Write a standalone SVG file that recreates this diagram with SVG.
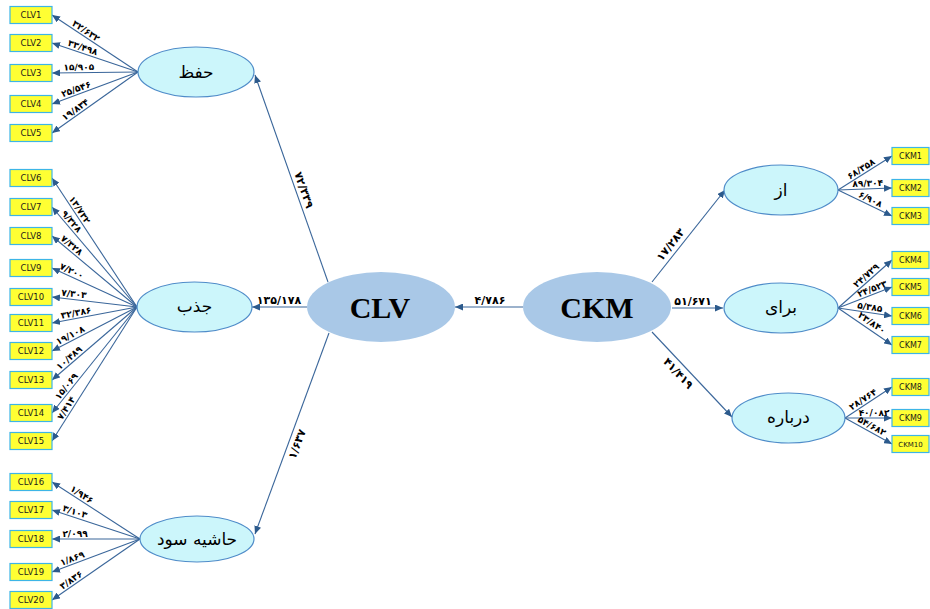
<svg xmlns="http://www.w3.org/2000/svg" width="930" height="609" viewBox="0 0 930 609">
<style>
.bg{fill:#ffffff}
.box{fill:#FFFF33;stroke:#3DB5E6;stroke-width:1.2}
.bt{font-family:"DejaVu Sans",sans-serif;font-size:8.5px;fill:#1a1a1a;text-anchor:middle}
.rt{font-family:"DejaVu Sans",sans-serif;font-size:8px;fill:#1a1a1a;text-anchor:middle}
.lat{fill:#CCF6FB;stroke:#4F8CC9;stroke-width:1.2}
.main{fill:#A9C8E7}
.lt{font-family:"DejaVu Sans",sans-serif;font-size:17px;text-anchor:middle;fill:#000}
.mt{font-family:"Liberation Serif",serif;font-weight:bold;font-size:30px;text-anchor:middle;fill:#000}
.ln{stroke:#3A669A;stroke-width:1.1;fill:none;marker-end:url(#ah)}
.nl{font-family:"DejaVu Sans",sans-serif;font-weight:bold;font-size:9px;text-anchor:middle;fill:#000}
.pl{font-family:"DejaVu Sans",sans-serif;font-weight:bold;font-size:11px;text-anchor:middle;fill:#000}
</style>
<defs>
<marker id="ah" markerUnits="userSpaceOnUse" markerWidth="9" markerHeight="7" refX="8" refY="3.5" orient="auto">
<path d="M0,0 L8,3.5 L0,7 z" fill="#2C5A8C"/>
</marker>
</defs>
<rect class="bg" x="0" y="0" width="930" height="609"/>

<g id="connectors">
<path class="ln" d="M138,72 L52,15"/>
<path class="ln" d="M138,72 L52,43"/>
<path class="ln" d="M138,72 L52,73"/>
<path class="ln" d="M138,72 L52,104"/>
<path class="ln" d="M138,72 L52,133"/>
<path class="ln" d="M137,307 L52,178"/>
<path class="ln" d="M137,307 L52,207"/>
<path class="ln" d="M137,307 L52,236"/>
<path class="ln" d="M137,307 L52,268"/>
<path class="ln" d="M137,307 L52,297"/>
<path class="ln" d="M137,307 L52,323"/>
<path class="ln" d="M137,307 L52,351"/>
<path class="ln" d="M137,307 L52,380"/>
<path class="ln" d="M137,307 L52,413"/>
<path class="ln" d="M137,307 L52,441"/>
<path class="ln" d="M140,539 L52,482"/>
<path class="ln" d="M140,539 L52,510"/>
<path class="ln" d="M140,539 L52,539"/>
<path class="ln" d="M140,539 L52,572"/>
<path class="ln" d="M140,539 L52,600"/>
<path class="ln" d="M838,190 L892,156"/>
<path class="ln" d="M838,190 L892,188"/>
<path class="ln" d="M838,190 L892,216"/>
<path class="ln" d="M838,308 L892,260"/>
<path class="ln" d="M838,308 L892,287"/>
<path class="ln" d="M838,308 L892,316"/>
<path class="ln" d="M838,308 L892,345"/>
<path class="ln" d="M845,418 L892,387"/>
<path class="ln" d="M845,418 L892,418"/>
<path class="ln" d="M845,418 L892,444"/>
<path class="ln" d="M523,307 L455,307"/>
<path class="ln" d="M307,307 L252,307"/>
<path class="ln" d="M328,282 L255,75"/>
<path class="ln" d="M329,333 L255,534"/>
<path class="ln" d="M652,282 L725,190"/>
<path class="ln" d="M672,308 L723,308"/>
<path class="ln" d="M652,332 L732,417"/>

<g id="connector-labels">
<text class="nl" transform="translate(83,35.6) rotate(33.5)" y="-2.5">۳۲/۶۳۲</text>
<text class="nl" transform="translate(81,52.8) rotate(18.6)" y="-2.5">۳۳/۴۹۸</text>
<text class="nl" transform="translate(79,72.7) rotate(-0.7)" y="-2.5">۱۵/۹۰۵</text>
<text class="nl" transform="translate(78,94.3) rotate(-20.4)" y="-2.5">۲۵/۵۴۶</text>
<text class="nl" transform="translate(78.5,114.2) rotate(-35.3)" y="-2.5">۱۹/۸۳۴</text>
<text class="nl" transform="translate(75,212.9) rotate(56.6)" y="-2.5">۱۳/۷۳۲</text>
<text class="nl" transform="translate(67.4,225.1) rotate(49.6)" y="-2.5">۹/۳۲۸</text>
<text class="nl" transform="translate(68.2,249.5) rotate(39.9)" y="-2.5">۷/۳۲۸</text>
<text class="nl" transform="translate(69.5,276) rotate(24.6)" y="-2.5">۷/۲۰۰</text>
<text class="nl" transform="translate(73.3,299.5) rotate(6.7)" y="-2.5">۷/۳۰۳</text>
<text class="nl" transform="translate(77.1,318.3) rotate(-10.7)" y="-2.5">۳۲/۳۸۶</text>
<text class="nl" transform="translate(72.8,340.2) rotate(-27.4)" y="-2.5">۱۹/۱۰۸</text>
<text class="nl" transform="translate(72.9,362) rotate(-40.7)" y="-2.5">۱۰/۴۸۹</text>
<text class="nl" transform="translate(70.7,389.7) rotate(-51.3)" y="-2.5">۱۵/۰۶۹</text>
<text class="nl" transform="translate(71,411.1) rotate(-57.6)" y="-2.5">۷/۴۱۴</text>
<text class="nl" transform="translate(78.7,499.3) rotate(32.9)" y="-2.5">۱/۹۴۶</text>
<text class="nl" transform="translate(73.1,517) rotate(18.2)" y="-2.5">۳/۱۰۳</text>
<text class="nl" transform="translate(75,539) rotate(0)" y="-2.5">۲/۰۹۹</text>
<text class="nl" transform="translate(74.1,563.7) rotate(-20.6)" y="-2.5">۱/۸۶۹</text>
<text class="nl" transform="translate(74.4,584.5) rotate(-34.7)" y="-2.5">۳/۸۳۶</text>
<text class="nl" transform="translate(864,173.6) rotate(-32.2)" y="-2.5">۶۸/۳۵۸</text>
<text class="nl" transform="translate(868,188.9) rotate(-2.1)" y="-2.5">۸۹/۳۰۴</text>
<text class="nl" transform="translate(868,204.4) rotate(25.7)" y="-2.5">۶/۹۰۸</text>
<text class="nl" transform="translate(870,279.6) rotate(-41.6)" y="-2.5">۲۴/۷۲۹</text>
<text class="nl" transform="translate(874.2,293.9) rotate(-21.3)" y="-2.5">۲۴/۵۲۳</text>
<text class="nl" transform="translate(869.1,312.6) rotate(8.4)" y="-2.5">۵/۳۸۵</text>
<text class="nl" transform="translate(868,328.6) rotate(34.4)" y="-4">۲۳/۸۴۰</text>
<text class="nl" transform="translate(866,404) rotate(-33.4)" y="-2.5">۲۸/۷۶۴</text>
<text class="nl" transform="translate(874,418) rotate(0)" y="-2.5">۴۰/۰۸۲</text>
<text class="nl" transform="translate(869,431.3) rotate(29)" y="-3">۵۴/۶۸۲</text>
<text class="pl" x="279" y="304">۱۳۵/۱۷۸</text>
<text class="pl" x="490" y="304">۴/۷۸۶</text>
<text class="pl" x="693" y="305">۵۱/۶۷۱</text>
<text class="pl" transform="translate(296.6,192.6) rotate(70.67)" y="-4">۷۲/۳۳۹</text>
<text class="pl" transform="translate(289.4,441.2) rotate(-69.9)" y="12">۱/۶۳۷</text>
<text class="pl" transform="translate(677.4,250) rotate(-51.6)" y="-5">۱۷/۲۸۳</text>
<text class="pl" transform="translate(685,367) rotate(46.74)" y="13">۴۱/۴۱۹</text>
</g>
</g>

<g id="node-CLV"><ellipse class="main" cx="381" cy="307" rx="74" ry="35"/><text class="mt" x="380" y="318">CLV</text></g>
<g id="node-CKM"><ellipse class="main" cx="597" cy="307" rx="74" ry="35"/><text class="mt" x="597" y="318">CKM</text></g>
<g id="node-hefz"><ellipse class="lat" cx="196" cy="72" rx="58" ry="25"/><text class="lt" x="196" y="78">حفظ</text></g>
<g id="node-jazb"><ellipse class="lat" cx="194.5" cy="307" rx="57.5" ry="25"/><text class="lt" x="194.5" y="312">جذب</text></g>
<g id="node-hashie"><ellipse class="lat" cx="197" cy="539" rx="57" ry="23"/><text class="lt" x="197" y="545">حاشیه سود</text></g>
<g id="node-az"><ellipse class="lat" cx="781" cy="190" rx="57" ry="25"/><text class="lt" x="781" y="196">از</text></g>
<g id="node-baray"><ellipse class="lat" cx="781" cy="308" rx="57" ry="25"/><text class="lt" x="781" y="313">برای</text></g>
<g id="node-darbare"><ellipse class="lat" cx="788.5" cy="418" rx="56.5" ry="25"/><text class="lt" x="788.5" y="423">درباره</text></g>

<g id="node-CLV1"><rect class="box" x="10" y="6.5" width="42" height="17"/><text class="bt" x="31" y="18">CLV1</text></g>
<g id="node-CLV2"><rect class="box" x="10" y="34.5" width="42" height="17"/><text class="bt" x="31" y="46">CLV2</text></g>
<g id="node-CLV3"><rect class="box" x="10" y="64.5" width="42" height="17"/><text class="bt" x="31" y="76">CLV3</text></g>
<g id="node-CLV4"><rect class="box" x="10" y="95.5" width="42" height="17"/><text class="bt" x="31" y="107">CLV4</text></g>
<g id="node-CLV5"><rect class="box" x="10" y="124.5" width="42" height="17"/><text class="bt" x="31" y="136">CLV5</text></g>
<g id="node-CLV6"><rect class="box" x="10" y="169.5" width="42" height="17"/><text class="bt" x="31" y="181">CLV6</text></g>
<g id="node-CLV7"><rect class="box" x="10" y="198.5" width="42" height="17"/><text class="bt" x="31" y="210">CLV7</text></g>
<g id="node-CLV8"><rect class="box" x="10" y="227.5" width="42" height="17"/><text class="bt" x="31" y="239">CLV8</text></g>
<g id="node-CLV9"><rect class="box" x="10" y="259.5" width="42" height="17"/><text class="bt" x="31" y="271">CLV9</text></g>
<g id="node-CLV10"><rect class="box" x="10" y="288.5" width="42" height="17"/><text class="bt" x="31" y="300">CLV10</text></g>
<g id="node-CLV11"><rect class="box" x="10" y="314.5" width="42" height="17"/><text class="bt" x="31" y="326">CLV11</text></g>
<g id="node-CLV12"><rect class="box" x="10" y="342.5" width="42" height="17"/><text class="bt" x="31" y="354">CLV12</text></g>
<g id="node-CLV13"><rect class="box" x="10" y="371.5" width="42" height="17"/><text class="bt" x="31" y="383">CLV13</text></g>
<g id="node-CLV14"><rect class="box" x="10" y="404.5" width="42" height="17"/><text class="bt" x="31" y="416">CLV14</text></g>
<g id="node-CLV15"><rect class="box" x="10" y="432.5" width="42" height="17"/><text class="bt" x="31" y="444">CLV15</text></g>
<g id="node-CLV16"><rect class="box" x="10" y="473.5" width="42" height="17"/><text class="bt" x="31" y="485">CLV16</text></g>
<g id="node-CLV17"><rect class="box" x="10" y="501.5" width="42" height="17"/><text class="bt" x="31" y="513">CLV17</text></g>
<g id="node-CLV18"><rect class="box" x="10" y="530.5" width="42" height="17"/><text class="bt" x="31" y="542">CLV18</text></g>
<g id="node-CLV19"><rect class="box" x="10" y="563.5" width="42" height="17"/><text class="bt" x="31" y="575">CLV19</text></g>
<g id="node-CLV20"><rect class="box" x="10" y="591.5" width="42" height="17"/><text class="bt" x="31" y="603">CLV20</text></g>

<g id="node-CKM1"><rect class="box" x="892" y="147.5" width="37" height="17"/><text class="rt" x="910.5" y="159">CKM1</text></g>
<g id="node-CKM2"><rect class="box" x="892" y="179.5" width="37" height="17"/><text class="rt" x="910.5" y="191">CKM2</text></g>
<g id="node-CKM3"><rect class="box" x="892" y="207.5" width="37" height="17"/><text class="rt" x="910.5" y="219">CKM3</text></g>
<g id="node-CKM4"><rect class="box" x="892" y="251.5" width="37" height="17"/><text class="rt" x="910.5" y="263">CKM4</text></g>
<g id="node-CKM5"><rect class="box" x="892" y="278.5" width="37" height="17"/><text class="rt" x="910.5" y="290">CKM5</text></g>
<g id="node-CKM6"><rect class="box" x="892" y="307.5" width="37" height="17"/><text class="rt" x="910.5" y="319">CKM6</text></g>
<g id="node-CKM7"><rect class="box" x="892" y="336.5" width="37" height="17"/><text class="rt" x="910.5" y="348">CKM7</text></g>
<g id="node-CKM8"><rect class="box" x="892" y="378.5" width="37" height="17"/><text class="rt" x="910.5" y="390">CKM8</text></g>
<g id="node-CKM9"><rect class="box" x="892" y="409.5" width="37" height="17"/><text class="rt" x="910.5" y="421">CKM9</text></g>
<g id="node-CKM10"><rect class="box" x="892" y="435.5" width="37" height="17"/><text class="rt" x="910.5" y="447" style="font-size:7px">CKM10</text></g>
</svg>
